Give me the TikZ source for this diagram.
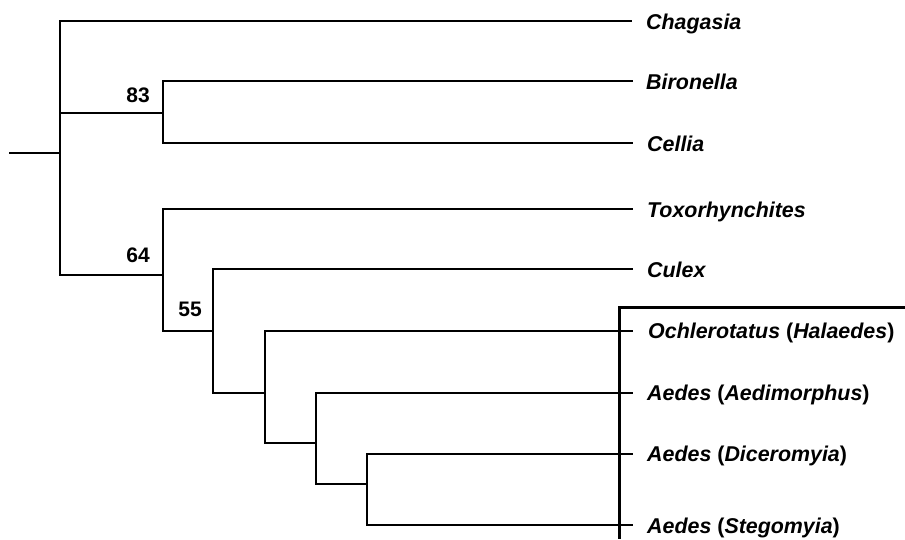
\documentclass[tikz,border=0pt]{standalone}
\usepackage{fontspec}
\setmainfont{Liberation Sans}
\begin{document}
\begin{tikzpicture}[x=1pt,y=-1pt,
  branch/.style={line width=1.1pt,line cap=rect},
  rootline/.style={line width=1.6pt},
  taxon/.style={anchor=base west,inner sep=0pt,font=\fontsize{21.4}{25}\selectfont\bfseries\itshape},
  support/.style={anchor=base east,inner sep=0pt,font=\fontsize{21}{25}\selectfont\bfseries},
  bar/.style={line width=3pt}]
\useasboundingbox (0,0) rectangle (905,539);
% internal nodes
\coordinate (stub) at (9,153);
\coordinate (root) at (60,153);
\coordinate (r1) at (60,113);
\coordinate (n1) at (163,113);
\coordinate (n2) at (163,275);
\coordinate (n3) at (213,331);
\coordinate (n4) at (265,393);
\coordinate (n5) at (316,443);
\coordinate (n6) at (367,484);
% tips
\coordinate (tcha) at (632,21);
\coordinate (tbir) at (632,81);
\coordinate (tcel) at (632,143);
\coordinate (ttox) at (632,209);
\coordinate (tcul) at (632,269);
\coordinate (toch) at (632,331);
\coordinate (taem) at (632,393);
\coordinate (tdic) at (632,454);
\coordinate (tste) at (632,525);
% labels
\node[taxon] (lcha) at (646,29) {Chagasia};
\node[taxon] (lbir) at (646,89) {Bironella};
\node[taxon] (lcel) at (647,151) {Cellia};
\node[taxon] (ltox) at (647,217) {Toxorhynchites};
\node[taxon] (lcul) at (647,277) {Culex};
\node[taxon] (loch) at (648,338) {Ochlerotatus\/ {\upshape(}Halaedes\/{\upshape)}};
\node[taxon] (laem) at (647,400) {Aedes {\upshape(}Aedimorphus\/{\upshape)}};
\node[taxon] (ldic) at (647,461) {Aedes {\upshape(}Diceromyia\/{\upshape)}};
\node[taxon] (lste) at (647,533) {Aedes {\upshape(}Stegomyia\/{\upshape)}};
% support values
\node[support] (s83) at (150,102) {83};
\node[support] (s64) at (150,262) {64};
\node[support] (s55) at (202,316) {55};
% root
\draw[rootline] (stub) -- (root);
\draw[rootline] (root) |- (tcha);
\draw[rootline] (root) |- (n2);
% branches
\draw[branch] (r1) -- (n1);
\draw[branch] (n1) |- (tbir);
\draw[branch] (n1) |- (tcel);
\draw[branch] (n2) |- (ttox);
\draw[branch] (n2) |- (n3);
\draw[branch] (n3) |- (tcul);
\draw[branch] (n3) |- (n4);
\draw[branch] (n4) |- (toch);
\draw[branch] (n4) |- (n5);
\draw[branch] (n5) |- (taem);
\draw[branch] (n5) |- (n6);
\draw[branch] (n6) |- (tdic);
\draw[branch] (n6) |- (tste);
% bracket
\coordinate (bartop) at (619,307);
\coordinate (barbot) at (619,539);
\coordinate (barend) at (905,307);
\draw[bar] (barend) -- (bartop) -- (barbot);
\end{tikzpicture}
\end{document}
